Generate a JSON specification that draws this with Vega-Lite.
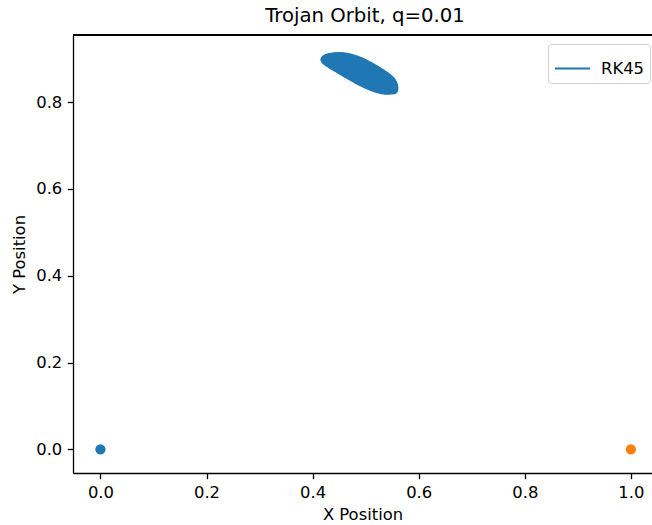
{
  "$schema": "https://vega.github.io/schema/vega-lite/v6.json",
  "width": 579,
  "height": 438,
  "autosize": {"type": "none"},
  "padding": {"left": 73, "top": 35, "right": 0, "bottom": 52},
  "background": "white",
  "title": {
    "text": "Trojan Orbit, q=0.01",
    "font": "DejaVu Sans",
    "fontSize": 19.7,
    "fontWeight": "normal",
    "color": "black",
    "anchor": "middle",
    "dx": 2.5,
    "offset": 8
  },
  "config": {
    "view": {"stroke": null},
    "axis": {
      "domainColor": "black",
      "domainWidth": 1.3,
      "tickColor": "black",
      "tickWidth": 1.3,
      "tickSize": 5.7,
      "labelFont": "DejaVu Sans",
      "labelFontSize": 16.4,
      "labelColor": "black",
      "labelPadding": 5.5,
      "titleFont": "DejaVu Sans",
      "titleFontSize": 16.4,
      "titleFontWeight": "normal",
      "titleColor": "black",
      "grid": false
    },
    "legend": {
      "labelFont": "DejaVu Sans",
      "labelFontSize": 16.4,
      "labelColor": "black"
    }
  },
  "layer": [
    {
      "data": {
        "values": [
          {"step": 0, "x": 0.4157, "y": 0.898, "method": "RK45"},
          {"step": 1, "x": 0.42, "y": 0.9059, "method": "RK45"},
          {"step": 2, "x": 0.4294, "y": 0.9112, "method": "RK45"},
          {"step": 3, "x": 0.4421, "y": 0.9135, "method": "RK45"},
          {"step": 4, "x": 0.4577, "y": 0.9135, "method": "RK45"},
          {"step": 5, "x": 0.4736, "y": 0.9096, "method": "RK45"},
          {"step": 6, "x": 0.4925, "y": 0.902, "method": "RK45"},
          {"step": 7, "x": 0.5113, "y": 0.8904, "method": "RK45"},
          {"step": 8, "x": 0.5302, "y": 0.8766, "method": "RK45"},
          {"step": 9, "x": 0.5458, "y": 0.8634, "method": "RK45"},
          {"step": 10, "x": 0.5553, "y": 0.8519, "method": "RK45"},
          {"step": 11, "x": 0.5596, "y": 0.8404, "method": "RK45"},
          {"step": 12, "x": 0.5604, "y": 0.8288, "method": "RK45"},
          {"step": 13, "x": 0.5572, "y": 0.8212, "method": "RK45"},
          {"step": 14, "x": 0.5491, "y": 0.8189, "method": "RK45"},
          {"step": 15, "x": 0.5332, "y": 0.8189, "method": "RK45"},
          {"step": 16, "x": 0.5175, "y": 0.8235, "method": "RK45"},
          {"step": 17, "x": 0.4987, "y": 0.8328, "method": "RK45"},
          {"step": 18, "x": 0.4798, "y": 0.8443, "method": "RK45"},
          {"step": 19, "x": 0.4609, "y": 0.8574, "method": "RK45"},
          {"step": 20, "x": 0.4421, "y": 0.8712, "method": "RK45"},
          {"step": 21, "x": 0.4294, "y": 0.8804, "method": "RK45"},
          {"step": 22, "x": 0.42, "y": 0.8887, "method": "RK45"}
        ]
      },
      "mark": {
        "type": "line",
        "interpolate": "cardinal-closed",
        "fill": "#1f77b4",
        "strokeWidth": 1.3
      },
      "encoding": {
        "x": {
          "field": "x",
          "type": "quantitative",
          "scale": {"domain": [-0.0517, 1.0398], "nice": false, "zero": false},
          "axis": {
            "orient": "bottom",
            "values": [0, 0.2, 0.4, 0.6, 0.8, 1.0],
            "format": ".1f",
            "title": "X Position",
            "titlePadding": 6
          }
        },
        "y": {
          "field": "y",
          "type": "quantitative",
          "scale": {"domain": [-0.0545, 0.9545], "nice": false, "zero": false},
          "axis": {
            "values": [0, 0.2, 0.4, 0.6, 0.8],
            "format": ".1f",
            "title": "Y Position",
            "titlePadding": 8
          }
        },
        "order": {"field": "step", "type": "quantitative"},
        "color": {
          "field": "method",
          "type": "nominal",
          "scale": {"domain": ["RK45"], "range": ["#1f77b4"]},
          "legend": {
            "title": null,
            "orient": "none",
            "legendX": 475,
            "legendY": 9,
            "symbolType": "stroke",
            "symbolSize": 1225,
            "symbolStrokeWidth": 2,
            "labelOffset": 10,
            "padding": 6,
            "fillColor": "white",
            "strokeColor": "#d0d0d0",
            "cornerRadius": 3
          }
        }
      }
    },
    {
      "data": {
        "values": [
          {"x": 0, "y": 0, "body": "Primary"},
          {"x": 1, "y": 0, "body": "Secondary"}
        ]
      },
      "mark": {"type": "circle", "size": 105, "opacity": 1},
      "encoding": {
        "x": {"field": "x", "type": "quantitative"},
        "y": {"field": "y", "type": "quantitative"},
        "color": {
          "field": "body",
          "type": "nominal",
          "scale": {"domain": ["Primary", "Secondary"], "range": ["#1f77b4", "#ff7f0e"]},
          "legend": null
        }
      }
    },
    {
      "data": {"values": [{"edge": 0.9545}]},
      "mark": {"type": "rule", "stroke": "#000000", "strokeWidth": 2},
      "encoding": {
        "y": {"field": "edge", "type": "quantitative"}
      }
    }
  ],
  "resolve": {
    "scale": {"color": "independent"}
  }
}
